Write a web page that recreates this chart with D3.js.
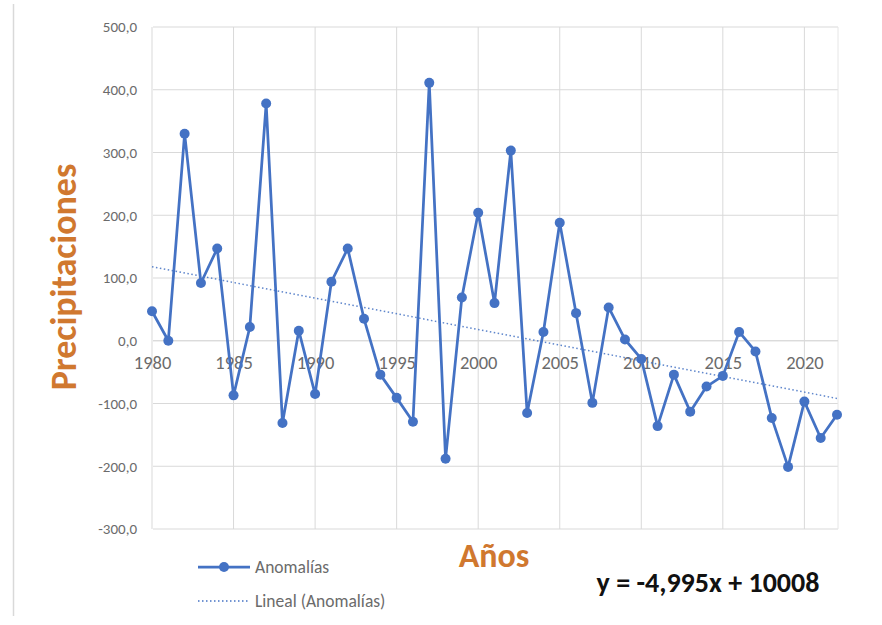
<!DOCTYPE html>
<html><head><meta charset="utf-8">
<script src="https://cdn.jsdelivr.net/npm/d3@7"></script>
<style>body{margin:0;background:#fff}svg{display:block}</style>
</head><body><svg id="c" width="882" height="625"></svg>
<script>
const years = d3.range(1980, 2023);
const anomalies = [47,0,330,92,147,-87,22,378,-131,16,-85,94,147,35,-54,-91,-129,411,-188,69,204,60,303,-115,14,188,44,-99,53,2,-29,-136,-54,-113,-73,-56,14,-17,-123,-201,-97,-155,-118];
const yTicks = [-300,-200,-100,0,100,200,300,400,500];
const xTicks = [1980,1985,1990,1995,2000,2005,2010,2015,2020];
const trendSlope = -4.995, trendIntercept = 10008;
const seriesName = "Anomalías", trendName = "Lineal (Anomalías)";
const xTitle = "Años", yTitle = "Precipitaciones";
const eqText = "y = -4,995x + 10008";

const svg = d3.select("#c");
const blue = "#4472C4", orange = "#D0782F";
const L = 153, R = 838, T = 27, B = 529;
const x = d3.scaleLinear().domain([1980, 2022]).range([152, 837]);
const y = d3.scaleLinear().domain([-300, 500]).range([B, T]);
const font = "Carlito, Calibri, 'Open Sans', sans-serif";

svg.append("line").attr("x1",13.5).attr("x2",13.5).attr("y1",4).attr("y2",616).attr("stroke","#d9d9d9").attr("stroke-width",1.5);

const fmt = v => d3.format(".1f")(v).replace(".", ",").replace("−","-");
// gridlines
svg.append("g").selectAll("line").data(yTicks).join("line")
  .attr("x1",L).attr("x2",R).attr("y1",d=>y(d)).attr("y2",d=>y(d))
  .attr("stroke","#d9d9d9").attr("stroke-width",1);
svg.append("g").selectAll("line").data(xTicks).join("line")
  .attr("x1",d=>x(d)).attr("x2",d=>x(d)).attr("y1",T).attr("y2",B)
  .attr("stroke","#d9d9d9").attr("stroke-width",1);
svg.append("line").attr("x1",R).attr("x2",R).attr("y1",T).attr("y2",B).attr("stroke","#e6e6e6");

// y axis labels
const yAxis = d3.axisLeft(y).tickValues(yTicks).tickFormat(fmt).tickSize(0).tickPadding(16);
const ya = svg.append("g").attr("transform",`translate(${L},0)`).call(yAxis);
ya.select(".domain").remove();
ya.selectAll("text").attr("fill","#6b6b6b").style("font-family",font).style("font-size","15px");

// x axis labels at y=0
const xAxis = d3.axisBottom(x).tickValues(xTicks).tickFormat(d3.format("d")).tickSize(0).tickPadding(15);
const xa = svg.append("g").attr("transform",`translate(0,${y(0)})`).call(xAxis);
xa.select(".domain").attr("stroke","#d9d9d9").attr("d",`M${L},0H${R}`);
xa.selectAll("text").attr("fill","#6b6b6b").style("font-family",font).style("font-size","18.5px");

// trend line
svg.append("line")
  .attr("x1",x(1980)).attr("y1",y(trendSlope*1980+trendIntercept))
  .attr("x2",x(2022)).attr("y2",y(trendSlope*2022+trendIntercept))
  .attr("stroke",blue).attr("stroke-width",1.5).attr("stroke-dasharray","1.5,2.5").attr("opacity",0.85);

// series
const data = years.map((yr,i)=>({yr, v: anomalies[i]}));
svg.append("path").datum(data)
  .attr("d", d3.line().x(d=>x(d.yr)).y(d=>y(d.v)))
  .attr("fill","none").attr("stroke",blue).attr("stroke-width",2.75).attr("stroke-linejoin","round");
svg.append("g").selectAll("circle").data(data).join("circle")
  .attr("cx",d=>x(d.yr)).attr("cy",d=>y(d.v)).attr("r",5).attr("fill",blue);

// titles
svg.append("text").attr("x",494).attr("y",567).attr("text-anchor","middle")
  .attr("fill",orange).style("font-family",font).style("font-weight","bold").style("font-size","34px").text(xTitle);
svg.append("text").attr("transform","translate(76,277) rotate(-90)").attr("text-anchor","middle")
  .attr("fill",orange).style("font-family",font).style("font-weight","bold").style("font-size","36px").text(yTitle);

// equation
svg.append("text").attr("x",708).attr("y",592).attr("text-anchor","middle")
  .attr("fill","#111").style("font-family",font).style("font-weight","bold").style("font-size","28px").text(eqText);

// legend
const lg = svg.append("g").style("font-family",font).style("font-size","17.5px");
lg.append("line").attr("x1",198).attr("x2",250).attr("y1",567).attr("y2",567).attr("stroke",blue).attr("stroke-width",2.75);
lg.append("circle").attr("cx",224).attr("cy",567).attr("r",5).attr("fill",blue);
lg.append("text").attr("x",255).attr("y",573).attr("fill","#6b6b6b").text(seriesName);
lg.append("line").attr("x1",198).attr("x2",250).attr("y1",601).attr("y2",601).attr("stroke",blue).attr("stroke-width",1.5).attr("stroke-dasharray","1.5,2.5");
lg.append("text").attr("x",255).attr("y",607).attr("fill","#6b6b6b").text(trendName);
</script></body></html>
